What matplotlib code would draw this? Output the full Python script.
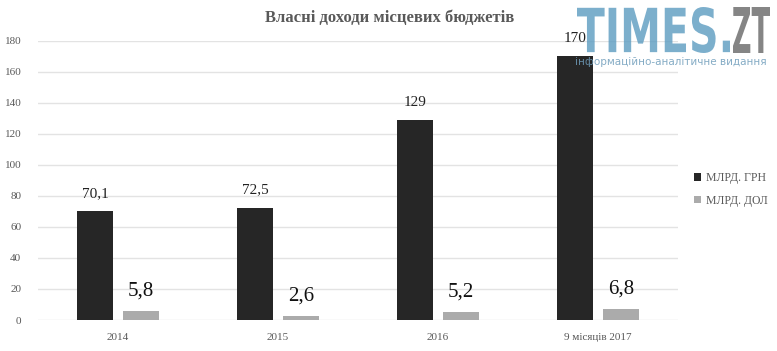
import matplotlib.pyplot as plt
import numpy as np
from matplotlib.textpath import TextPath
from matplotlib.patches import PathPatch
from matplotlib.font_manager import FontProperties
from matplotlib.transforms import Affine2D

# Власні доходи місцевих бюджетів
categories = ["2014", "2015", "2016", "9 місяців 2017"]
uah_bn = [70.1, 72.5, 129, 170]
usd_bn = [5.8, 2.6, 5.2, 6.8]
uah_labels = ["70,1", "72,5", "129", "170"]
usd_labels = ["5,8", "2,6", "5,2", "6,8"]
yticks = [0, 20, 40, 60, 80, 100, 120, 140, 160, 180]

dark = "#262626"
light = "#ABABAB"
txt = "#595959"
W, H = 777, 351


def logo_text(fig, s, x0, x1, ytop, ybot, color, alpha):
    # squeeze a text path into a pixel box (top-left origin)
    tp = TextPath((0, 0), s, size=1, prop=FontProperties(family="DejaVu Sans", weight="bold"))
    ext = tp.get_extents()
    sx = (x1 - x0) / ext.width / W
    sy = (ybot - ytop) / ext.height / H
    tr = Affine2D().translate(-ext.x0, -ext.y0).scale(sx, sy).translate(x0 / W, 1 - ybot / H)
    fig.add_artist(PathPatch(tp, transform=tr + fig.transFigure, color=color,
                             alpha=alpha, lw=0, zorder=10))


fig = plt.figure(figsize=(W / 100, H / 100), dpi=100)
ax = fig.add_axes([0.0489, 0.0883, 0.8237, 0.7957])

x = np.arange(len(categories))
w = 0.225
off = 0.144
b1 = ax.bar(x - off, uah_bn, w, color=dark, label="МЛРД. ГРН", zorder=3)
b2 = ax.bar(x + off, usd_bn, w, color=light, label="МЛРД. ДОЛ", zorder=3)

for xi, v, s in zip(x, uah_bn, uah_labels):
    ax.text(xi - off, v + 7, s, ha="center", va="bottom", fontsize=11,
            family="Liberation Serif", color="#222222")
for xi, v, s in zip(x, usd_bn, usd_labels):
    ax.text(xi + off, v + 7, s, ha="center", va="bottom", fontsize=15,
            family="Liberation Serif", color="#111111")

ax.set_xlim(-0.5, len(categories) - 0.5)
ax.set_ylim(0, 180)
ax.set_yticks(yticks)
ax.set_xticks(x)
ax.set_xticklabels(categories)
ax.tick_params(length=0, labelsize=8, labelcolor=txt, pad=9)
for lab in ax.get_xticklabels() + ax.get_yticklabels():
    lab.set_family("Liberation Serif")
ax.tick_params(axis="y", pad=12)
ax.grid(axis="y", color="#E3E3E3", linewidth=1, zorder=0)
for sp in ax.spines.values():
    sp.set_visible(False)

fig.text(0.502, 0.95, "Власні доходи місцевих бюджетів", ha="center", va="center",
         fontsize=12, fontweight="bold", family="Liberation Serif", color=txt)

leg = fig.legend(handles=[b1, b2], loc="center left", bbox_to_anchor=(0.88, 0.46),
                 frameon=False, handlelength=0.6, handleheight=0.6, handletextpad=0.4,
                 labelspacing=0.9, prop={"family": "Liberation Serif", "size": 8.5})
for t in leg.get_texts():
    t.set_color(txt)

# watermark TIMES.ZT
logo_text(fig, "TIMES.", 577, 730, 7, 53, "#5B9BC0", 0.8)
logo_text(fig, "ZT", 733, 770, 7, 53, "#707070", 0.85)
fig.text(767 / W, 1 - 62 / H, "інформаційно-аналітичне видання", ha="right", va="center",
         fontsize=7.5, family="DejaVu Sans", color="#6F9DBB", alpha=0.85, zorder=10)

fig.savefig("out.png", dpi=100)
